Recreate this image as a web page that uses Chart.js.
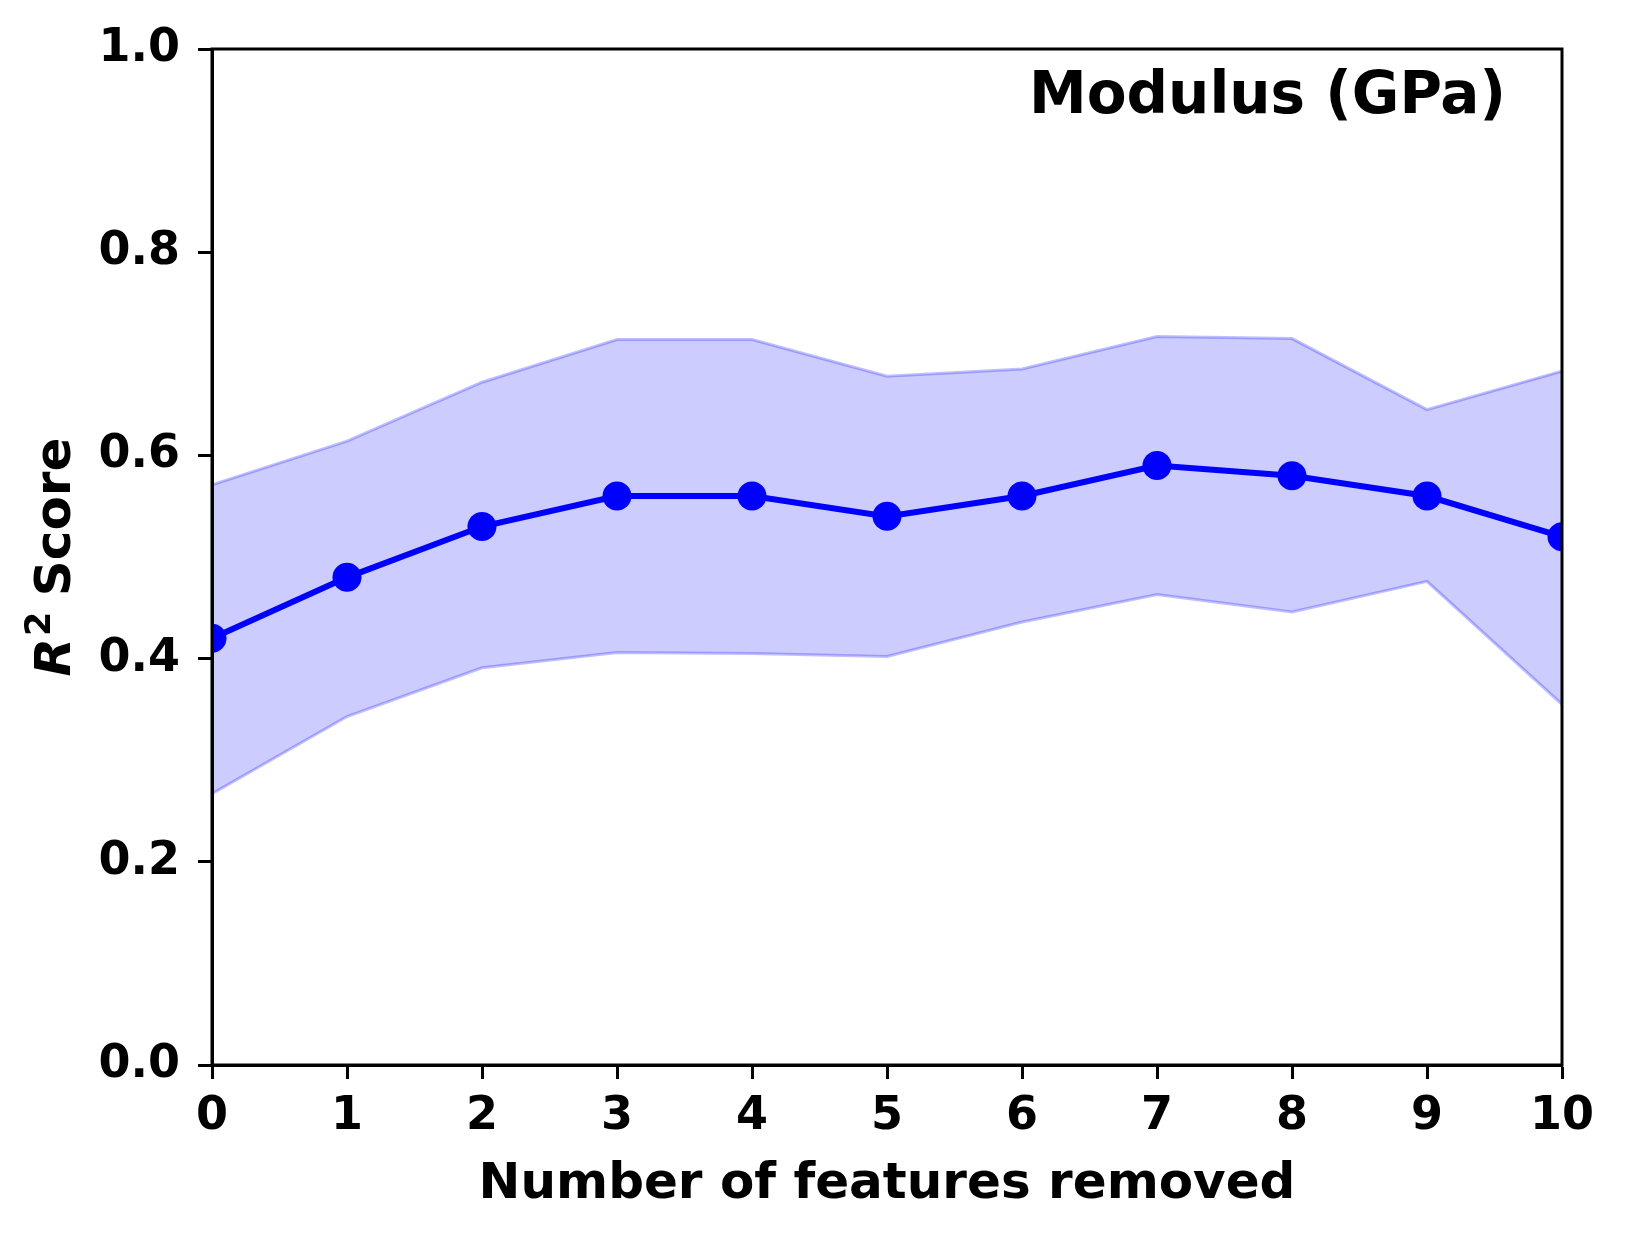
<!DOCTYPE html>
<html>
<head>
<meta charset="utf-8">
<script src="https://cdn.jsdelivr.net/npm/chart.js@4.4.1/dist/chart.umd.min.js"></script>
<style>
  html, body { margin: 0; padding: 0; background: #fff; }
  #wrap { width: 1626px; height: 1237px; }
</style>
</head>
<body>
<div id="wrap"><canvas id="r2-chart" width="1626" height="1237"></canvas></div>
<script>
"use strict";

/* --- data --- */
const features_removed = [0, 1, 2, 3, 4, 5, 6, 7, 8, 9, 10];
const r2_mean  = [0.42, 0.48, 0.53, 0.56, 0.56, 0.54, 0.56, 0.59, 0.58, 0.56, 0.52];
const r2_upper = [0.571, 0.614, 0.672, 0.714, 0.714, 0.678, 0.685, 0.717, 0.715, 0.645, 0.683];
const r2_lower = [0.267, 0.343, 0.391, 0.406, 0.405, 0.402, 0.436, 0.463, 0.446, 0.476, 0.355];
const y_ticks  = [0, 0.2, 0.4, 0.6, 0.8, 1.0];

const panel_title = 'Modulus (GPa)';
const x_title = 'Number of features removed';

const FONT = '"DejaVu Sans", sans-serif';

function pts(ys) {
  return features_removed.map((x, i) => ({ x: x, y: ys[i] }));
}

/* frame + titles, matplotlib style */
const frame_plugin = {
  id: 'frame',
  afterDraw(chart) {
    const ctx = chart.ctx;
    const a = chart.chartArea;
    ctx.save();
    ctx.strokeStyle = '#000';
    ctx.lineWidth = 3;
    ctx.strokeRect(a.left, a.top, a.right - a.left, a.bottom - a.top);

    ctx.fillStyle = '#000';
    ctx.font = 'bold 58px ' + FONT;
    ctx.textAlign = 'right';
    ctx.textBaseline = 'alphabetic';
    ctx.fillText(panel_title, a.right - 56, 113);

    ctx.font = 'bold 50px ' + FONT;
    ctx.textAlign = 'center';
    ctx.fillText(x_title, (a.left + a.right) / 2, 1198);

    // y label: italic R, superscript 2, " Score"
    ctx.translate(70, (a.top + a.bottom) / 2);
    ctx.rotate(-Math.PI / 2);
    ctx.textAlign = 'left';
    const f_r = 'italic bold 50px ' + FONT;
    const f_sup = 'bold 35px ' + FONT;
    const f_txt = 'bold 50px ' + FONT;
    ctx.font = f_r;   const w1 = ctx.measureText('R').width;
    ctx.font = f_sup; const w2 = ctx.measureText('2').width;
    ctx.font = f_txt; const w3 = ctx.measureText(' Score').width;
    let x0 = -(w1 + w2 + w3) / 2;
    ctx.font = f_r;   ctx.fillText('R', x0, 0); x0 += w1 + 2;
    ctx.font = f_sup; ctx.fillText('2', x0, -20); x0 += w2 - 2;
    ctx.font = f_txt; ctx.fillText(' Score', x0, 0);
    ctx.restore();
  }
};

const ctx = document.getElementById('r2-chart');

const r2_chart = new Chart(ctx, {
  type: 'line',
  data: {
    datasets: [
      {
        label: 'mean',
        data: pts(r2_mean),
        borderColor: '#0000ff',
        backgroundColor: '#0000ff',
        borderWidth: 6,
        pointRadius: 14.5,
        pointBorderWidth: 0,
        pointBackgroundColor: '#0000ff',
        tension: 0,
        fill: false,
        clip: 0,
        order: 0
      },
      {
        label: 'upper',
        data: pts(r2_upper),
        borderColor: 'rgba(0,0,255,0.25)',
        backgroundColor: 'rgba(0,0,255,0.2)',
        borderWidth: 3,
        pointRadius: 0,
        tension: 0,
        fill: '+1',
        clip: 0,
        order: 1
      },
      {
        label: 'lower',
        data: pts(r2_lower),
        borderColor: 'rgba(0,0,255,0.25)',
        backgroundColor: 'rgba(0,0,255,0.2)',
        borderWidth: 3,
        pointRadius: 0,
        tension: 0,
        fill: false,
        clip: 0,
        order: 2
      }
    ]
  },
  options: {
    responsive: false,
    animation: false,
    devicePixelRatio: 1,
    layout: {
      padding: { top: 49, right: 64, left: 0, bottom: 0 }
    },
    plugins: {
      legend: { display: false },
      tooltip: { enabled: false },
      title: { display: false }
    },
    scales: {
      x: {
        type: 'linear',
        min: 0,
        max: 10,
        afterFit(scale) { scale.height = 172; },
        afterBuildTicks(scale) {
          scale.ticks = features_removed.map(v => ({ value: v }));
        },
        grid: {
          drawOnChartArea: false,
          drawTicks: true,
          tickLength: 14,
          tickWidth: 3,
          tickColor: '#000'
        },
        border: { display: true, color: '#000', width: 3 },
        ticks: {
          color: '#000',
          padding: 10,
          maxRotation: 0,
          autoSkip: false,
          font: { family: FONT, size: 46, weight: 'bold' },
          callback: v => String(v)
        }
      },
      y: {
        type: 'linear',
        min: 0,
        max: 1,
        afterFit(scale) { scale.width = 212; },
        afterBuildTicks(scale) {
          scale.ticks = y_ticks.map(v => ({ value: v }));
        },
        grid: {
          drawOnChartArea: false,
          drawTicks: true,
          tickLength: 14,
          tickWidth: 3,
          tickColor: '#000'
        },
        border: { display: true, color: '#000', width: 3 },
        ticks: {
          color: '#000',
          padding: 18,
          font: { family: FONT, size: 46, weight: 'bold' },
          callback: v => Number(v).toFixed(1)
        }
      }
    }
  },
  plugins: [frame_plugin]
});
</script>
</body>
</html>
